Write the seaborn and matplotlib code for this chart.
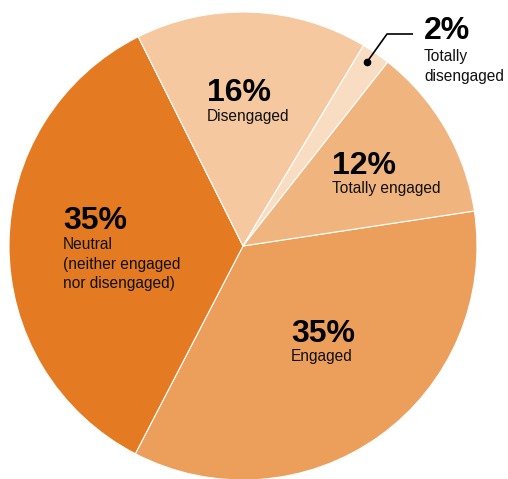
import matplotlib
matplotlib.use("Agg")
import matplotlib.pyplot as plt
import seaborn as sns

# Engagement shares, in drawing order (clockwise from the right)
categories = ["Engaged", "Neutral", "Disengaged", "Totally disengaged", "Totally engaged"]
shares = [35, 35, 16, 2, 12]
sub_labels = [["Engaged"],
              ["Neutral", "(neither engaged", "nor disengaged)"],
              ["Disengaged"],
              ["Totally", "disengaged"],
              ["Totally engaged"]]
hex_colors = ["#EC9E5B", "#E47A21", "#F5C8A0", "#F9DDC3", "#F0B47F"]

sns.set_theme(style="white")
plt.rcParams["font.family"] = ["Liberation Sans", "DejaVu Sans"]

W, H = 508, 479
fig = plt.figure(figsize=(W / 100, H / 100), dpi=100)
ax = fig.add_axes([0, 0, 1, 1])

cx, cy, r = 243, H - 246, 234
palette = sns.color_palette(hex_colors)
ax.pie(shares, colors=palette, startangle=8.6, counterclock=False,
       center=(cx, cy), radius=r, frame=True,
       wedgeprops=dict(edgecolor="white", linewidth=0.8))
ax.set_xlim(0, W)
ax.set_ylim(0, H)
ax.set_aspect("equal")
ax.axis("off")

# label anchors: left x, baseline of the percentage, baseline of the first caption line
anchors = {
    "Engaged": (291, 342, 361),
    "Neutral": (63, 229, 249),
    "Disengaged": (207, 101, 121),
    "Totally disengaged": (424, 39, 61),
    "Totally engaged": (332, 174, 193),
}
line_step = 19.5
for cat, val, lines in zip(categories, shares, sub_labels):
    x, yb, ys = anchors[cat]
    ax.text(x, H - yb, f"{val}%", fontsize=23, fontweight="bold",
            color="black", ha="left", va="baseline")
    for i, line in enumerate(lines):
        ax.text(x, H - (ys + i * line_step), line, fontsize=11.2,
                color="#111111", ha="left", va="baseline")

# leader for the small slice
ax.plot([367, 387, 413], [H - 62, H - 34, H - 34], color="black", lw=1.2,
        solid_capstyle="butt")
ax.plot([367], [H - 62], marker="o", ms=4.5, color="black")

fig.savefig("out.png", dpi=100)
